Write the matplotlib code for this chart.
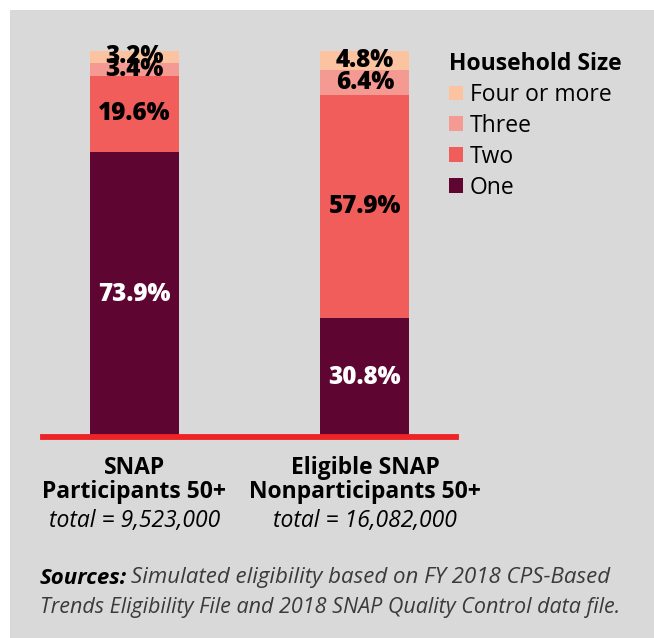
import numpy as np
import matplotlib.pyplot as plt
from matplotlib.patches import Rectangle

plt.rcParams['font.family'] = ['Open Sans', 'DejaVu Sans']

# Datos
grupos = ["SNAP\nParticipants 50+", "Eligible SNAP\nNonparticipants 50+"]
totales = ["total = 9,523,000", "total = 16,082,000"]
tamanos = ["One", "Two", "Three", "Four or more"]
uno = [73.9, 30.8]
dos = [19.6, 57.9]
tres = [3.4, 6.4]
cuatro = [3.2, 4.8]

colores = ["#5e0532", "#f05d5a", "#f59a92", "#fcc3a0"]
color_texto = ["white", "black", "black", "black"]

fig = plt.figure(figsize=(6.54, 6.38), dpi=100, facecolor="white")
# fondo gris
fig.patches.append(Rectangle((10/654, 0), 1, 1 - 10/638, transform=fig.transFigure,
                             facecolor="#d9d9d9", edgecolor="none", zorder=-5))

ax = fig.add_axes([43/654, 1 - 437/638, 413/654, 386/638])
ax.set_facecolor("none")
ax.set_zorder(2)

x = np.arange(len(grupos))
ancho = 0.386
fondo = np.zeros(len(grupos))
barras = []
for serie, col, tcol in zip([uno, dos, tres, cuatro], colores, color_texto):
    b = ax.bar(x, serie, ancho, bottom=fondo, color=col, edgecolor="none", zorder=2)
    barras.append(b)
    for xi, v, f in zip(x, serie, fondo):
        ax.text(xi, f + v/2, f"{v}%", ha="center", va="center", color=tcol,
                fontsize=17.5, fontweight="heavy", zorder=4)
    fondo = fondo + np.array(serie)

ax.axhline(0, color="#ee2326", lw=4.2, zorder=3, clip_on=False)
ax.set_xlim(-0.397, 1.395)
ax.set_ylim(0, 100)
ax.axis("off")

# leyenda
leg = fig.legend(barras[::-1], tamanos[::-1], title="Household Size",
                 loc="upper left", bbox_to_anchor=(449/654, 1 - 52/638),
                 frameon=False, fontsize=16.5, borderpad=0, borderaxespad=0,
                 handlelength=0.6, handleheight=0.6, handletextpad=0.3,
                 labelspacing=0.3, alignment="left")
leg.get_title().set_fontweight("bold")
leg.get_title().set_fontsize(16.5)

# etiquetas de categoria
centros = [134.5/654, 365/654]
for cx, g, t in zip(centros, grupos, totales):
    fig.text(cx, 1 - 480/638, g, ha="center", va="center", fontsize=16.5,
             fontweight="bold", linespacing=1.05)
    fig.text(cx, 1 - 521/638, t, ha="center", va="center", fontsize=16.5,
             style="italic", color="black")

# fuente
t1 = fig.text(40/654, 1 - 578/638, "Sources:", ha="left", va="center", fontsize=16,
              fontweight="bold", style="italic")
fig.canvas.draw()
bb = t1.get_window_extent()
fig.text(bb.x1/fig.bbox.width + 4/654, 1 - 578/638,
         "Simulated eligibility based on FY 2018 CPS-Based",
         ha="left", va="center", fontsize=16, style="italic", color="#3a3a3a")
fig.text(40/654, 1 - 607/638,
         "Trends Eligibility File and 2018 SNAP Quality Control data file.",
         ha="left", va="center", fontsize=15.5, style="italic", color="#3a3a3a")

plt.savefig("out.png", dpi=100, facecolor=fig.get_facecolor())
